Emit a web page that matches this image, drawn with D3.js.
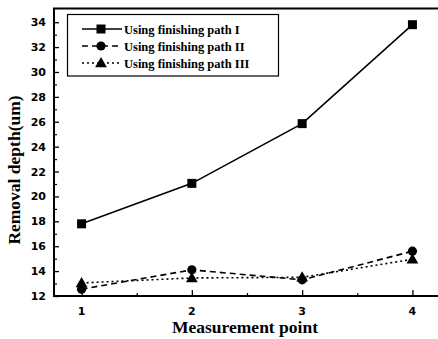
<!DOCTYPE html>
<html>
<head>
<meta charset="utf-8">
<script src="https://cdn.jsdelivr.net/npm/d3@7"></script>
<style>
  body { margin: 0; background: #fff; }
  svg { display: block; }
</style>
</head>
<body>
<svg width="438" height="339"></svg>
<script>
var svg = d3.select("svg");

// data
var points = [1, 2, 3, 4];
var pathI = [17.8, 21.05, 25.85, 33.8];
var pathII = [12.55, 14.1, 13.3, 15.6];
var pathIII = [13.05, 13.45, 13.5, 14.95];
var seriesNames = ["Using finishing path I", "Using finishing path II", "Using finishing path III"];
var yTicks = [12, 14, 16, 18, 20, 22, 24, 26, 28, 30, 32, 34];

var plotLeft = 54, plotRight = 440, plotTop = 8.5, plotBottom = 296;

var x = d3.scaleLinear().domain([0.75, 4.25]).range([plotLeft, plotRight]);
var y = d3.scaleLinear().domain([12, 35.1]).range([plotBottom, plotTop]);

// frame: left, top and bottom (right edge runs off the picture)
svg.append("path")
    .attr("d", "M" + (plotRight + 5) + "," + plotTop + "H" + plotLeft + "V" + plotBottom + "H" + (plotRight + 5))
    .attr("fill", "none").attr("stroke", "#000").attr("stroke-width", 2);

// y axis, ticks pointing inward
var gy = svg.append("g").attr("transform", "translate(" + plotLeft + ",0)")
    .call(d3.axisRight(y).tickValues(yTicks).tickSize(5).tickFormat(""));
gy.select(".domain").remove();
gy.selectAll("line").attr("stroke-width", 1.3);
svg.append("g").attr("transform", "translate(" + plotLeft + ",0)")
    .call(d3.axisRight(y).tickValues(d3.range(13, 35, 2)).tickSize(3).tickFormat(""))
    .call(g => g.select(".domain").remove())
    .selectAll("line").attr("stroke-width", 1.2);

svg.append("g").selectAll("text").data(yTicks).enter().append("text")
    .attr("x", plotLeft - 8).attr("y", d => y(d) + 4)
    .attr("text-anchor", "end")
    .attr("font-family", "DejaVu Sans, sans-serif")
    .attr("font-weight", "bold").attr("font-size", 11)
    .text(d => d);

// x axis, ticks pointing inward
var gx = svg.append("g").attr("transform", "translate(0," + plotBottom + ")")
    .call(d3.axisTop(x).tickValues(points).tickSize(6).tickFormat(""));
gx.select(".domain").remove();
gx.selectAll("line").attr("stroke-width", 1.3);
svg.append("g").attr("transform", "translate(0," + plotBottom + ")")
    .call(d3.axisTop(x).tickValues([1.5, 2.5, 3.5]).tickSize(3).tickFormat(""))
    .call(g => g.select(".domain").remove())
    .selectAll("line").attr("stroke-width", 1.2);

svg.append("g").selectAll("text").data(points).enter().append("text")
    .attr("x", d => x(d)).attr("y", plotBottom + 19)
    .attr("text-anchor", "middle")
    .attr("font-family", "DejaVu Sans, sans-serif")
    .attr("font-weight", "bold").attr("font-size", 11)
    .text(d => d);

// axis titles
svg.append("text")
    .attr("x", 245).attr("y", 333)
    .attr("text-anchor", "middle")
    .attr("font-family", "Liberation Serif, Times New Roman, serif")
    .attr("font-weight", "bold").attr("font-size", 17.5)
    .text("Measurement point");

svg.append("text")
    .attr("transform", "translate(20,170) rotate(-90)")
    .attr("text-anchor", "middle")
    .attr("font-family", "Liberation Serif, Times New Roman, serif")
    .attr("font-weight", "bold").attr("font-size", 17.5)
    .text("Removal depth(um)");

// series
var dashes = [null, "6,4", "2,3"];
var allSeries = [pathI, pathII, pathIII];
var line = d3.line().x((d, i) => x(points[i])).y(d => y(d));

allSeries.forEach(function (s, k) {
    svg.append("path")
        .datum(s)
        .attr("d", line)
        .attr("fill", "none")
        .attr("stroke", "#000")
        .attr("stroke-width", 1.6)
        .attr("stroke-dasharray", dashes[k]);
});

function marker(g, k, cx, cy) {
    if (k === 0) {
        g.append("rect").attr("x", cx - 4.5).attr("y", cy - 4.5)
            .attr("width", 9).attr("height", 9).attr("fill", "#000");
    } else if (k === 1) {
        g.append("circle").attr("cx", cx).attr("cy", cy).attr("r", 4.6).attr("fill", "#000");
    } else {
        g.append("path")
            .attr("d", d3.symbol().type(d3.symbolTriangle).size(60)())
            .attr("transform", "translate(" + cx + "," + (cy + 0.8) + ")")
            .attr("fill", "#000");
    }
}

var gm = svg.append("g");
allSeries.forEach(function (s, k) {
    s.forEach(function (v, i) { marker(gm, k, x(points[i]), y(v)); });
});

// legend
var lg = svg.append("g");
lg.append("rect")
    .attr("x", 67.5).attr("y", 14.5).attr("width", 211).attr("height", 61.5)
    .attr("fill", "#fff").attr("stroke", "#000").attr("stroke-width", 1.2);
seriesNames.forEach(function (name, k) {
    var ly = 29 + k * 17;
    lg.append("line")
        .attr("x1", 82).attr("x2", 122).attr("y1", ly).attr("y2", ly)
        .attr("stroke", "#000").attr("stroke-width", 1.6)
        .attr("stroke-dasharray", dashes[k]);
    marker(lg, k, 101, ly);
    lg.append("text")
        .attr("x", 124).attr("y", ly + 4.5)
        .attr("font-family", "Liberation Serif, Times New Roman, serif")
        .attr("font-weight", "bold").attr("font-size", 12.5)
        .text(name);
});
</script>
</body>
</html>
